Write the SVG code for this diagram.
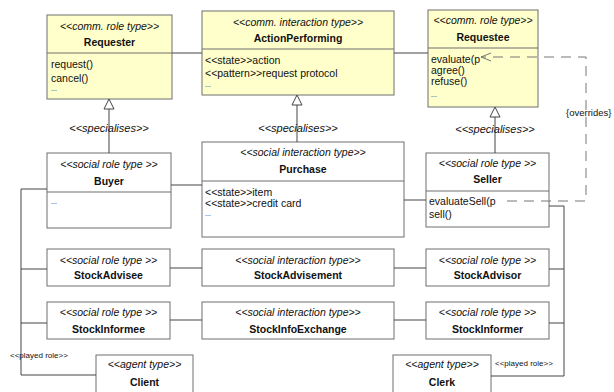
<svg xmlns="http://www.w3.org/2000/svg" width="614" height="392" viewBox="0 0 614 392">
<style>
text{font-family:"Liberation Sans",Arial,sans-serif;fill:#111}
.box{fill:#fff;stroke:#6e6e6e;stroke-width:1}
.comm{fill:#ffffcc;stroke:#6e6e6e;stroke-width:1}
.div{stroke:#6e6e6e;stroke-width:1}
.st{font-style:italic;font-size:10.5px;text-anchor:middle}
.nm{font-weight:bold;font-size:10.5px;text-anchor:middle}
.tx{font-size:10.5px}
.dots{font-size:7px}
.ln{fill:none;stroke:#444;stroke-width:1}
.dash{fill:none;stroke:#777;stroke-width:1;stroke-dasharray:10,7}
.gen{fill:#fff;stroke:#444;stroke-width:1}
.lbl{font-style:italic;font-size:11px;text-anchor:middle}
.pr{font-size:8px}
</style>
<defs>
<marker id="open" viewBox="0 0 12 10" refX="11" refY="5" markerWidth="12" markerHeight="10" markerUnits="userSpaceOnUse" orient="auto">
<path d="M1,1 L11,5 L1,9" fill="none" stroke="#777" stroke-width="1"/>
</marker>
</defs>

<g id="Requester">
<rect class="comm" x="47" y="15" width="125" height="84"/>
<line class="div" x1="47" y1="53" x2="172" y2="53"/>
<text class="st" x="109.5" y="30">&lt;&lt;comm. role type&gt;&gt;</text>
<text class="nm" x="109.5" y="46">Requester</text>
<text class="tx" x="51" y="68">request()</text>
<text class="tx" x="51" y="82">cancel()</text>
<text class="dots" x="51" y="91">...</text>
</g>

<g id="ActionPerforming">
<rect class="comm" x="202" y="11" width="192" height="84"/>
<line class="div" x1="202" y1="49" x2="394" y2="49"/>
<text class="st" x="298" y="26">&lt;&lt;comm. interaction type&gt;&gt;</text>
<text class="nm" x="298" y="42">ActionPerforming</text>
<text class="tx" x="205" y="64">&lt;&lt;state&gt;&gt;action</text>
<text class="tx" x="205" y="77">&lt;&lt;pattern&gt;&gt;request protocol</text>
<text class="dots" x="205" y="87">...</text>
</g>

<g id="Requestee">
<rect class="comm" x="428" y="10" width="110" height="97"/>
<line class="div" x1="428" y1="48" x2="538" y2="48"/>
<text class="st" x="483" y="24">&lt;&lt;comm. role type&gt;&gt;</text>
<text class="nm" x="483" y="41">Requestee</text>
<text class="tx" x="431" y="63">evaluate(p</text>
<text class="tx" x="431" y="74">agree()</text>
<text class="tx" x="431" y="85">refuse()</text>
<text class="dots" x="431" y="97">...</text>
</g>

<g id="Buyer">
<rect class="box" x="47" y="153" width="124" height="75"/>
<line class="div" x1="47" y1="192" x2="171" y2="192"/>
<text class="st" x="109" y="168">&lt;&lt;social role type &gt;&gt;</text>
<text class="nm" x="109" y="185">Buyer</text>
<text class="dots" x="51" y="204">...</text>
</g>

<g id="Purchase">
<rect class="box" x="202" y="142" width="202" height="95"/>
<line class="div" x1="202" y1="181" x2="404" y2="181"/>
<text class="st" x="303" y="156">&lt;&lt;social interaction type&gt;&gt;</text>
<text class="nm" x="303" y="173">Purchase</text>
<text class="tx" x="205" y="196">&lt;&lt;state&gt;&gt;item</text>
<text class="tx" x="205" y="207">&lt;&lt;state&gt;&gt;credit card</text>
<text class="dots" x="205" y="216">...</text>
</g>

<g id="Seller">
<rect class="box" x="426" y="153" width="123" height="74"/>
<line class="div" x1="426" y1="191" x2="549" y2="191"/>
<text class="st" x="487.5" y="167">&lt;&lt;social role type &gt;&gt;</text>
<text class="nm" x="487.5" y="183">Seller</text>
<text class="tx" x="429" y="205">evaluateSell(p</text>
<text class="tx" x="429" y="218">sell()</text>
</g>

<g id="StockAdvisee">
<rect class="box" x="47" y="249" width="123" height="37"/>
<text class="st" x="108.5" y="264">&lt;&lt;social role type &gt;&gt;</text>
<text class="nm" x="108.5" y="279">StockAdvisee</text>
</g>
<g id="StockAdvisement">
<rect class="box" x="202" y="249" width="192" height="37"/>
<text class="st" x="298" y="264">&lt;&lt;social interaction type&gt;&gt;</text>
<text class="nm" x="298" y="279">StockAdvisement</text>
</g>
<g id="StockAdvisor">
<rect class="box" x="426" y="249" width="123" height="37"/>
<text class="st" x="487.5" y="264">&lt;&lt;social role type &gt;&gt;</text>
<text class="nm" x="487.5" y="279">StockAdvisor</text>
</g>

<g id="StockInformee">
<rect class="box" x="47" y="302" width="123" height="37"/>
<text class="st" x="108.5" y="316">&lt;&lt;social role type &gt;&gt;</text>
<text class="nm" x="108.5" y="333">StockInformee</text>
</g>
<g id="StockInfoExchange">
<rect class="box" x="202" y="302" width="192" height="37"/>
<text class="st" x="298" y="316">&lt;&lt;social interaction type&gt;&gt;</text>
<text class="nm" x="298" y="333">StockInfoExchange</text>
</g>
<g id="StockInformer">
<rect class="box" x="426" y="302" width="123" height="37"/>
<text class="st" x="487.5" y="316">&lt;&lt;social role type &gt;&gt;</text>
<text class="nm" x="487.5" y="333">StockInformer</text>
</g>

<g id="Client">
<rect class="box" x="96" y="355" width="97" height="45"/>
<text class="st" x="144.5" y="368">&lt;&lt;agent type&gt;&gt;</text>
<text class="nm" x="144.5" y="386">Client</text>
</g>
<g id="Clerk">
<rect class="box" x="393" y="355" width="98" height="45"/>
<text class="st" x="442" y="368">&lt;&lt;agent type&gt;&gt;</text>
<text class="nm" x="442" y="386">Clerk</text>
</g>

<g id="connectors">
<line class="ln" x1="172" y1="53" x2="202" y2="53"/>
<line class="ln" x1="394" y1="53" x2="428" y2="53"/>
<line class="ln" x1="171" y1="185" x2="202" y2="185"/>
<line class="ln" x1="404" y1="200" x2="426" y2="200"/>
<line class="ln" x1="170" y1="268" x2="202" y2="268"/>
<line class="ln" x1="394" y1="268" x2="426" y2="268"/>
<line class="ln" x1="170" y1="320" x2="202" y2="320"/>
<line class="ln" x1="394" y1="320" x2="426" y2="320"/>
<line class="ln" x1="109" y1="153" x2="109" y2="109"/>
<polygon class="gen" points="109,99 104,109 114,109"/>
<line class="ln" x1="297" y1="142" x2="297" y2="105"/>
<polygon class="gen" points="297,95 292,105 302,105"/>
<line class="ln" x1="495" y1="153" x2="495" y2="117"/>
<polygon class="gen" points="495,107 490,117 500,117"/>
<text class="lbl" x="109" y="132">&lt;&lt;specialises&gt;&gt;</text>
<text class="lbl" x="298" y="132">&lt;&lt;specialises&gt;&gt;</text>
<text class="lbl" x="495" y="133">&lt;&lt;specialises&gt;&gt;</text>
<polyline class="ln" points="47,189 21,189 21,375 96,375"/>
<line class="ln" x1="21" y1="269" x2="47" y2="269"/>
<line class="ln" x1="21" y1="323" x2="47" y2="323"/>
<polyline class="ln" points="549,206 564,206 564,376 491,376"/>
<line class="ln" x1="549" y1="269" x2="564" y2="269"/>
<line class="ln" x1="549" y1="323" x2="564" y2="323"/>
<text class="pr" x="10" y="358">&lt;&lt;played role&gt;&gt;</text>
<text class="pr" x="495" y="366">&lt;&lt;played role&gt;&gt;</text>
<polyline class="dash" points="507,201 586,201 586,57 481,57" marker-end="url(#open)"/>
<text x="566" y="116" style="font-size:9.5px">{overrides}</text>
</g>
</svg>
